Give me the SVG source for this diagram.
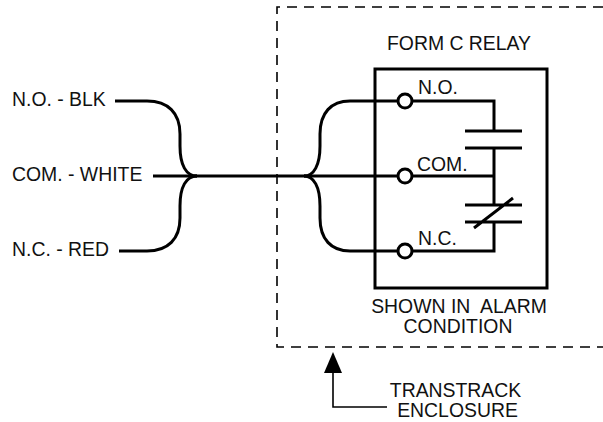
<svg xmlns="http://www.w3.org/2000/svg" width="603" height="422" viewBox="0 0 603 422">
<style>
text{font-family:"Liberation Sans",Arial,sans-serif;font-size:19.4px;fill:#111}
.m{text-anchor:middle}
.w{fill:none;stroke:#000;stroke-width:3}
.t{fill:none;stroke:#000;stroke-width:1.6}
.d{fill:none;stroke:#000;stroke-width:1.6;stroke-dasharray:10 7}
.c{fill:#fff;stroke:#000;stroke-width:3}
</style>
<rect width="603" height="422" fill="#fff"/>
<g id="enclosure"><path class="d" d="M603 7H277V347H603"/></g>
<g id="relay"><rect class="w" x="375" y="69" width="172" height="219"/>
<text class="m" x="459" y="50">FORM C RELAY</text>
<text class="m" xml:space="preserve"><tspan x="459" y="313">SHOWN IN  ALARM</tspan><tspan x="458" y="333">CONDITION</tspan></text></g>
<g id="connectors">
<path class="w" d="M115 101H147C168 101 180 113 180 134V146C180 165 186 176 197 176"/>
<path class="w" d="M153 176H398"/>
<path class="w" d="M119 251H147C168 251 180 239 180 218V206C180 187 186 176 197 176"/>
<path class="w" d="M398 101H350C331 101 320 113 320 134V146C320 165 314 176 304 176"/>
<path class="w" d="M398 251H350C331 251 320 239 320 218V206C320 187 314 176 304 176"/>
<path class="w" d="M412 101H494V131M412 176H494M412 251H494V222M494 148V205"/>
<path class="w" d="M465 131H522M465 148H522M465 205H522M465 222H522M474 228L513 198"/>
<path class="t" d="M387 407H333V365"/>
<polygon points="333,352 342,373 324,373" fill="#000"/>
</g>
<g id="terminal-no"><circle class="c" cx="405" cy="101" r="7"/><text x="418" y="94">N.O.</text></g>
<g id="terminal-com"><circle class="c" cx="405" cy="176" r="7"/><text x="417" y="171">COM.</text></g>
<g id="terminal-nc"><circle class="c" cx="405" cy="251" r="7"/><text x="418" y="245">N.C.</text></g>
<g id="label-blk"><text x="12" y="106">N.O. - BLK</text></g>
<g id="label-white"><text x="12" y="181">COM. - WHITE</text></g>
<g id="label-red"><text x="12" y="256">N.C. - RED</text></g>
<g id="label-transtrack"><text class="m"><tspan x="455.500" y="397">TRANSTRACK</tspan><tspan x="457.500" y="417">ENCLOSURE</tspan></text></g>
</svg>
